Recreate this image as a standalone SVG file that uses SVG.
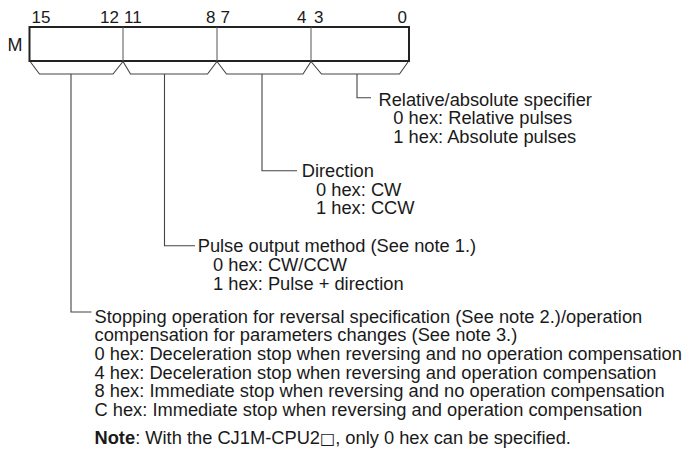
<svg xmlns="http://www.w3.org/2000/svg" width="691" height="452" viewBox="0 0 691 452">
<style>
  text { font-family: "Liberation Sans", Arial, sans-serif; fill: #1a1a1a; }
  .bit { font-size: 17px; }
  .m { font-size: 18px; }
  .lbl { font-size: 18.3px; }
  .box { fill: #ffffff; stroke: #222222; stroke-width: 2; }
  .div { stroke: #555555; stroke-width: 1; fill: none; }
  .brace { stroke: #444444; stroke-width: 1.1; fill: none; }
  .conn { stroke: #444444; stroke-width: 1.1; fill: none; }
</style>
<rect width="691" height="452" fill="#ffffff"/>

<g id="register">
  <rect class="box" x="29.5" y="27" width="379.5" height="34"/>
  <line class="div" x1="123" y1="27" x2="123" y2="61"/>
  <line class="div" x1="217" y1="27" x2="217" y2="61"/>
  <line class="div" x1="311" y1="27" x2="311" y2="61"/>
  <text class="m" x="7.5" y="51">M</text>
  <text class="bit" x="31.5" y="23.3">15</text>
  <text class="bit" x="119" y="23.3" text-anchor="end">12</text>
  <text class="bit" x="124" y="23.3">11</text>
  <text class="bit" x="215.5" y="23.3" text-anchor="end">8</text>
  <text class="bit" x="220.5" y="23.3">7</text>
  <text class="bit" x="306.5" y="23.3" text-anchor="end">4</text>
  <text class="bit" x="314" y="23.3">3</text>
  <text class="bit" x="407" y="23.3" text-anchor="end">0</text>
</g>

<g id="braces">
  <polyline class="brace" points="30.5,62 39.5,74 113,74 123,61.5"/>
  <polyline class="brace" points="123,61.5 130.5,74 207.5,74 217,61.5"/>
  <polyline class="brace" points="217,61.5 226.5,74 303,74 311,61.5"/>
  <polyline class="brace" points="311,61.5 321.5,74 399.5,74 408,62"/>
</g>

<g id="connectors">
  <polyline class="conn" points="71,74 71,312 91.5,312"/>
  <polyline class="conn" points="164.5,74 164.5,245.7 195,245.7"/>
  <polyline class="conn" points="262,74 262,170.7 297,170.7"/>
  <polyline class="conn" points="357,74 357,97.7 371,97.7"/>
</g>

<g id="relative-absolute">
  <text class="lbl" x="378.5" y="105.7">Relative/absolute specifier</text>
  <text class="lbl" x="393.3" y="124.3">0 hex: Relative pulses</text>
  <text class="lbl" x="393.3" y="143">1 hex: Absolute pulses</text>
</g>

<g id="direction">
  <text class="lbl" x="301.7" y="176.7">Direction</text>
  <text class="lbl" x="316" y="195.5">0 hex: CW</text>
  <text class="lbl" x="316" y="214">1 hex: CCW</text>
</g>

<g id="pulse-output">
  <text class="lbl" x="197.7" y="251.7">Pulse output method (See note 1.)</text>
  <text class="lbl" x="213" y="270.5">0 hex: CW/CCW</text>
  <text class="lbl" x="213" y="290">1 hex: Pulse + direction</text>
</g>

<g id="stopping-operation">
  <text class="lbl" x="94.5" y="322.5">Stopping operation for reversal specification (See note 2.)/operation</text>
  <text class="lbl" x="94.5" y="341">compensation for parameters changes (See note 3.)</text>
  <text class="lbl" x="94.5" y="360">0 hex: Deceleration stop when reversing and no operation compensation</text>
  <text class="lbl" x="94.5" y="378.5">4 hex: Deceleration stop when reversing and operation compensation</text>
  <text class="lbl" x="94.5" y="397">8 hex: Immediate stop when reversing and no operation compensation</text>
  <text class="lbl" x="94.5" y="415.5">C hex: Immediate stop when reversing and operation compensation</text>
</g>

<g id="note">
  <text class="lbl" x="94.5" y="444"><tspan font-weight="bold">Note</tspan>: With the CJ1M-CPU2<tspan font-family="'DejaVu Sans', sans-serif" font-size="16px">□</tspan>, only 0 hex can be specified.</text>
</g>
</svg>
